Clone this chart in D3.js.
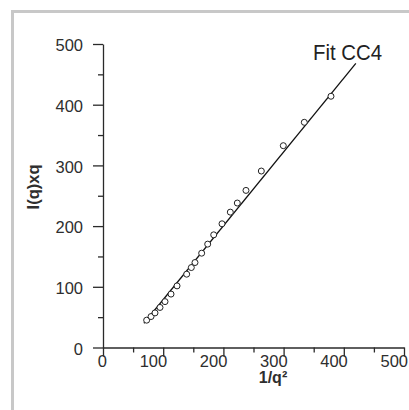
<!DOCTYPE html>
<html>
<head>
<meta charset="utf-8">
<script src="https://cdn.jsdelivr.net/npm/d3@7"></script>
<style>
  html, body { margin: 0; padding: 0; background: #fff; }
  svg { display: block; }
  text { font-family: "Liberation Sans", Arial, Helvetica, sans-serif; }
</style>
</head>
<body>
<svg id="chart" width="409" height="410"></svg>
<script>
// Measured points: 1/q^2 against I(q)*q
const invQ2 = [72.5, 79.8, 86.4, 94.7, 103, 113, 123, 139, 146.7, 152.8, 163.9,
               173.9, 183.9, 197.7, 211.5, 223.1, 237.5, 263, 299.5, 334.4, 378.7];
const iqq   = [45, 51, 57, 66, 75.6, 88, 101.5, 120.8, 131.7, 140, 155.4,
               170.3, 185.6, 203.8, 223, 238, 258.8, 290.7, 332.5, 371, 413.9];

// Fitted line (CC4 model)
const fitX = [68, 420];
const fitY = [40, 468];

// Axis ticks
const majorTicks = [0, 100, 200, 300, 400, 500];
const minorTicks = [50, 150, 250, 350, 450];

const svg = d3.select("#chart");

// Grey frame around the figure panel
svg.append("path")
  .attr("d", "M12.5,410 V11.5 H409")
  .attr("fill", "none")
  .attr("stroke", "#c8c8c8")
  .attr("stroke-width", 3);

const x = d3.scaleLinear().domain([0, 500]).range([103, 404]);
const y = d3.scaleLinear().domain([0, 500]).range([347.5, 44]);

const axisColor = "#2a2a2a";
const textColor = "#2e2e2e";
const labelFont = "16.5px";

// x axis: major and minor ticks
const gx = svg.append("g").attr("transform", `translate(0,${y(0)})`);
gx.call(d3.axisBottom(x).tickValues(majorTicks).tickSize(9).tickSizeOuter(0));
// labels sit just left of their tick, baseline under the axis
gx.selectAll(".tick text")
  .attr("text-anchor", "end")
  .attr("x", 3.5)
  .attr("y", 19)
  .attr("dy", null);
const gxm = svg.append("g").attr("transform", `translate(0,${y(0)})`);
gxm.call(d3.axisBottom(x).tickValues(minorTicks).tickSize(5).tickFormat(""));
gxm.select(".domain").remove();

// y axis: major and minor ticks
const gy = svg.append("g").attr("transform", `translate(${x(0)},0)`);
gy.call(d3.axisLeft(y).tickValues(majorTicks).tickSize(10).tickSizeOuter(0).tickPadding(10));
gy.selectAll(".tick text").attr("dy", "0.4em");
const gym = svg.append("g").attr("transform", `translate(${x(0)},0)`);
gym.call(d3.axisLeft(y).tickValues(minorTicks).tickSize(5).tickFormat(""));
gym.select(".domain").remove();

svg.selectAll(".domain, .tick line")
  .attr("stroke", axisColor)
  .attr("stroke-width", 1.3);
svg.selectAll(".tick text")
  .attr("fill", textColor)
  .style("font-size", labelFont)
  .style("font-family", "'Liberation Sans', Arial, sans-serif");

// Axis titles
svg.append("text")
  .attr("x", 273).attr("y", 383)
  .attr("text-anchor", "middle")
  .attr("fill", textColor)
  .style("font-size", "16px").style("font-weight", "bold")
  .text("1/q²");

svg.append("text")
  .attr("transform", "translate(39,187) rotate(-90)")
  .attr("text-anchor", "middle")
  .attr("fill", textColor)
  .style("font-size", "16.5px").style("font-weight", "bold")
  .text("I(q)xq");

// Fit line
const fitData = fitX.map((v, i) => [v, fitY[i]]);
svg.append("path")
  .datum(fitData)
  .attr("d", d3.line().x(d => x(d[0])).y(d => y(d[1])))
  .attr("fill", "none")
  .attr("stroke", "#111")
  .attr("stroke-width", 1.3);

// Data points as open circles
svg.append("g")
  .selectAll("circle")
  .data(invQ2.map((v, i) => [v, iqq[i]]))
  .join("circle")
  .attr("cx", d => x(d[0]))
  .attr("cy", d => y(d[1]))
  .attr("r", 3)
  .attr("fill", "#fff")
  .attr("stroke", "#222")
  .attr("stroke-width", 1);

// Fit label
svg.append("text")
  .attr("x", 313).attr("y", 59.5)
  .attr("fill", "#222")
  .attr("textLength", 69)
  .attr("lengthAdjust", "spacingAndGlyphs")
  .style("font-size", "21.5px")
  .text("Fit CC4");
</script>
</body>
</html>
